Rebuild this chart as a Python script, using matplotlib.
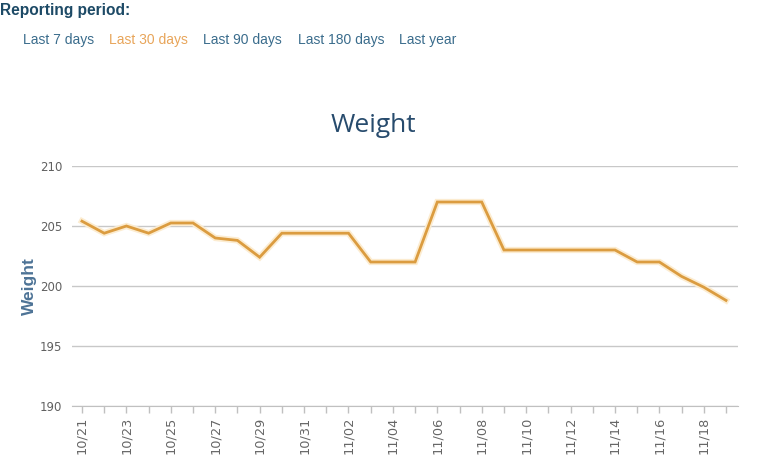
import numpy as np
import pandas as pd
import matplotlib
matplotlib.use('Agg')
import matplotlib.pyplot as plt
import matplotlib.patheffects as pe

# daily weight readings, 10/21 .. 11/19
dates = pd.date_range('2018-10-21', '2018-11-19', freq='D')
weights = [205.4, 204.4, 205.0, 204.4, 205.25, 205.25, 204.0, 203.8, 202.4, 204.4,
           204.4, 204.4, 204.4, 202.0, 202.0, 202.0, 207.0, 207.0, 207.0, 203.0,
           203.0, 203.0, 203.0, 203.0, 203.0, 202.0, 202.0, 200.8, 199.9, 198.8]
y_ticks = [190, 195, 200, 205, 210]
periods = ['Last 7 days', 'Last 30 days', 'Last 90 days', 'Last 180 days', 'Last year']
period_x = [23, 109, 203, 298, 399]
active_period = 'Last 30 days'

W, H = 772, 457
fig = plt.figure(figsize=(W / 100, H / 100), dpi=100)
plt.rcParams['font.family'] = ['Liberation Sans', 'DejaVu Sans']

# header
fig.text(0 / W, 1 - 10 / H, 'Reporting period:', fontsize=11.2, fontweight='bold',
         color='#1d4a66', va='center', ha='left')
for label, px in zip(periods, period_x):
    col = '#e8a55a' if label == active_period else '#3a6c8c'
    fig.text(px / W, 1 - 40 / H, label, fontsize=10, color=col, va='center', ha='left')

ax = fig.add_axes([72 / W, 1 - 406 / H, (738 - 72) / W, (406 - 166) / H])

x = np.arange(len(dates))
ax.plot(x, weights, color='#db9c40', linewidth=2, solid_joinstyle='miter',
        path_effects=[pe.Stroke(linewidth=4.5, foreground='#fcecd0'), pe.Normal()],
        zorder=3)

ax.set_ylim(190, 210)
ax.set_xlim(-0.45, len(dates) - 1 + 0.54)
ax.set_yticks(y_ticks)
ax.set_yticklabels([str(v) for v in y_ticks], family='DejaVu Sans')
ax.yaxis.grid(True, color='#c8c8c8', linewidth=1)
ax.tick_params(axis='y', length=0, pad=7, labelsize=8.5, labelcolor='#606060')

ax.set_xticks(x)
ax.set_xticklabels([d.strftime('%m/%d') if i % 2 == 0 else '' for i, d in enumerate(dates)],
                   rotation=90, family='DejaVu Sans')
ax.tick_params(axis='x', length=5, width=1, color='#c0c0c0', pad=3,
               labelsize=9.3, labelcolor='#666666')

for s in ['top', 'right', 'left']:
    ax.spines[s].set_visible(False)
ax.spines['bottom'].set_color('#c0c0c0')
ax.set_axisbelow(True)

fig.text(29 / W, 1 - 286 / H, 'Weight', fontsize=12.5, fontweight='bold', color='#4d7396',
         rotation=90, ha='center', va='center')

fig.text(373 / W, 1 - 125 / H, 'Weight', fontsize=19, color='#274b6d',
         ha='center', va='center', family=['Open Sans', 'DejaVu Sans'])

fig.savefig('out.png', dpi=100)
